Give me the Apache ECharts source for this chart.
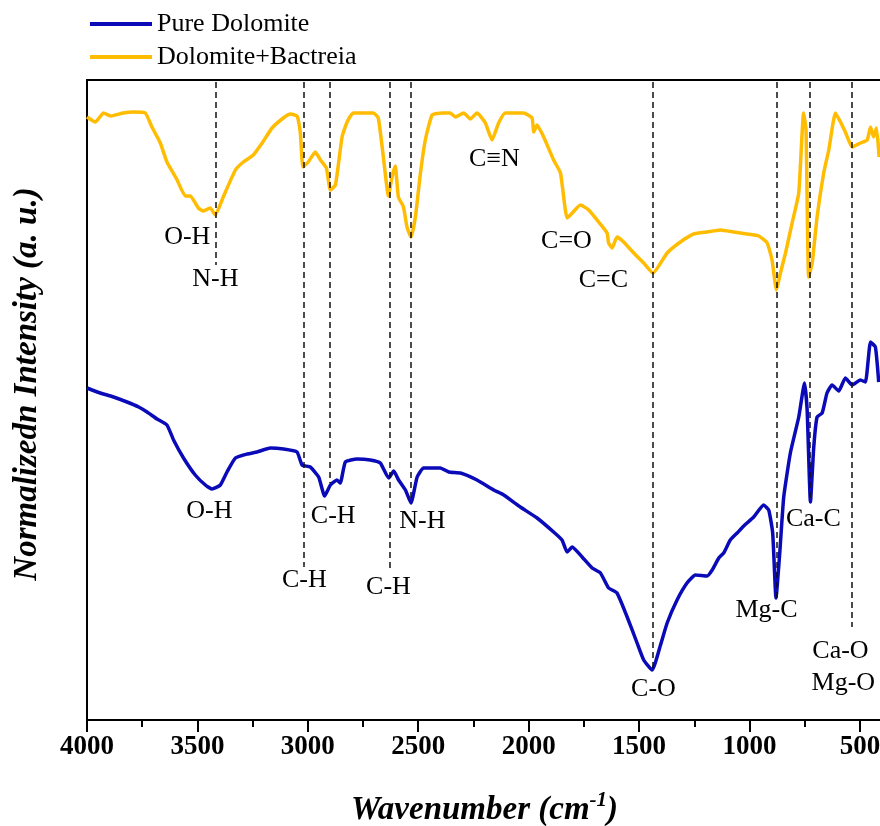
<!DOCTYPE html>
<html>
<head>
<meta charset="utf-8">
<script src="https://cdn.jsdelivr.net/npm/echarts@6/dist/echarts.min.js"></script>
<style>
html,body{margin:0;padding:0;background:#fff;}
#chart{width:880px;height:826px;}
</style>
</head>
<body>
<div id="chart"></div>
<script>
// ---- Data ----
const seriesNames = ['Pure Dolomite', 'Dolomite+Bactreia'];
const seriesColors = ['#0a0ab8', '#ffbc00'];

// Dolomite + Bacteria spectrum (wavenumber, cm-1) and normalized intensity (a.u.)
const orangeWn = [4000,3962,3925,3894,3836,3790,3736,3706,3668,3638,
  3592,3555,3532,3496,3473,3442,3419,3383,3328,3292,
  3247,3207,3162,3111,3079,3049,3034,3022,2998,2966,
  2943,2916,2898,2875,2845,2822,2794,2703,2681,2658,
  2635,2619,2604,2590,2567,2551,2533,2513,2490,2468,
  2437,2392,2355,2332,2294,2264,2234,2196,2166,2136,
  2106,2023,1985,1977,1962,1932,1887,1856,1826,1803,
  1766,1728,1683,1645,1638,1622,1600,1570,1524,1479,
  1437,1373,1313,1253,1192,1132,1072,1011,958,920,
  898,878,860,837,807,777,755,744,732,716,
  694,664,641,611,588,566,535,498,467,452,
  438,425,413];
const orangeVal = [603,598,607,604,607,608,607,593,577,558,
  540,524,524,512,509,512,505,523,550,558,
  565,577,592,602,606,604,587,553,558,568,
  560,552,530,535,583,598,607,607,602,563,
  524,543,554,523,513,493,483,503,547,580,
  605,607,607,603,607,601,607,597,580,597,
  607,607,602,588,595,583,560,547,502,507,
  515,510,498,487,477,472,483,478,467,457,
  447,467,478,486,488,490,488,486,484,477,
  460,430,447,467,497,527,607,590,443,457,
  503,547,570,607,598,588,573,577,580,593,
  583,592,563];

// Pure Dolomite spectrum
const blueWn = [4000,3940,3880,3819,3766,3728,3683,3638,3608,3563,
  3510,3464,3434,3396,3366,3328,3275,3230,3170,3110,
  3049,3026,2989,2951,2924,2898,2868,2853,2830,2777,
  2717,2672,2634,2611,2589,2558,2533,2505,2476,2400,
  2362,2309,2234,2158,2113,2038,1962,1887,1849,1826,
  1803,1758,1713,1675,1638,1600,1554,1509,1479,1441,
  1403,1373,1328,1283,1245,1192,1169,1139,1117,1087,
  1056,1026,981,936,913,895,880,863,845,815,
  777,751,739,724,709,694,671,649,626,596,
  566,535,498,475,452,430,415];
const blueVal = [332,327,323,318,313,308,301,295,280,262,
  245,235,231,235,248,262,266,268,272,271,
  268,255,253,243,224,235,240,237,258,261,
  260,257,242,249,240,230,217,243,252,252,
  248,247,240,230,225,213,202,188,180,168,
  173,163,152,147,132,127,103,77,60,50,
  75,97,120,137,145,144,150,162,167,180,
  187,194,203,215,210,187,122,167,223,267,
  303,337,310,218,273,303,307,327,335,329,
  342,335,340,338,378,373,338];

// Dashed peak marker lines: wavenumber, lower end (a.u.), common upper end
const peakWn  = [3419, 3020, 2903, 2631, 2536, 1440, 878, 729, 539];
const peakLow = [455, 153, 237, 148, 220, 52, 120, 220, 93];
const peakTop = 638;

// Band assignment labels
const bandText = ['O-H','N-H','C\u2261N','C=O','C=C','O-H','C-H','N-H','C-H','C-H','C-O','Mg-C','Ca-C','Ca-O','Mg-O'];
const bandWn   = [3546, 3419, 2155, 1829, 1662, 3446, 2885, 2481, 3016, 2635, 1435, 923, 711, 588, 575];
const bandVal  = [483, 441, 561, 479, 440, 209, 204, 199, 140, 133, 31, 110, 201, 69, 37];

// Axis ticks
const majorTicks = [4000, 3500, 3000, 2500, 2000, 1500, 1000, 500];
const minorTicks = [3750, 3250, 2750, 2250, 1750, 1250, 750];
const xMin = 400, xMax = 4000;
const yMin = 0, yMax = 640;

// ---- Chart ----
const serif = '"Liberation Serif", "Times New Roman", serif';
const zip = (a, b) => a.map((v, i) => [v, b[i]]);

const chart = echarts.init(document.getElementById('chart'), null, {renderer: 'canvas'});

const option = {
  animation: false,
  backgroundColor: '#ffffff',
  grid: {
    left: 87, top: 80, width: 795, height: 640,
    containLabel: false,
    outerBoundsMode: 'none',
    show: true, borderColor: '#000', borderWidth: 2, backgroundColor: 'transparent'
  },
  legend: {
    data: seriesNames,
    orient: 'vertical',
    left: 85, top: 6,
    itemGap: 7,
    itemWidth: 62, itemHeight: 4,
    icon: 'rect',
    textStyle: {fontFamily: serif, fontSize: 26, lineHeight: 26, color: '#000'}
  },
  xAxis: [{
    type: 'value', inverse: true, min: xMin, max: xMax,
    position: 'bottom',
    axisLine: {show: true, lineStyle: {color: '#000', width: 2}},
    axisTick: {show: true, customValues: majorTicks, length: 12, inside: false, lineStyle: {color: '#000', width: 2}},
    axisLabel: {show: true, customValues: majorTicks, margin: 14, formatter: v => String(v),
      fontFamily: serif, fontSize: 27, fontWeight: 'bold', color: '#000'},
    splitLine: {show: false},
    name: '{t|Wavenumber (cm}{s|-1}{t|)}',
    nameLocation: 'middle',
    nameGap: 70,
    nameTextStyle: {
      rich: {
        t: {fontFamily: serif, fontSize: 33, fontWeight: 'bold', fontStyle: 'italic', color: '#000', lineHeight: 40},
        s: {fontFamily: serif, fontSize: 21, fontWeight: 'bold', fontStyle: 'italic', color: '#000', lineHeight: 22, verticalAlign: 'top'}
      }
    }
  }, {
    type: 'value', inverse: true, min: xMin, max: xMax,
    position: 'bottom',
    axisLine: {show: false},
    axisTick: {show: true, customValues: minorTicks, length: 7, inside: false, lineStyle: {color: '#000', width: 2}},
    axisLabel: {show: false},
    splitLine: {show: false}
  }],
  yAxis: {
    type: 'value', min: yMin, max: yMax,
    axisLine: {show: true, lineStyle: {color: '#000', width: 2}},
    axisTick: {show: false},
    axisLabel: {show: false},
    splitLine: {show: false}
  },
  graphic: [{
    type: 'text',
    x: 27, y: 384,
    rotation: Math.PI / 2,
    style: {
      text: 'Normalizedn Intensity (a. u.)',
      font: 'italic bold 33px ' + serif,
      fill: '#000',
      align: 'center', verticalAlign: 'middle',
      textAlign: 'center', textVerticalAlign: 'middle'
    }
  }],
  series: [
    {
      name: seriesNames[0], type: 'line', xAxisIndex: 0,
      data: zip(blueWn, blueVal),
      symbol: 'none', smooth: 0.15,
      lineStyle: {color: seriesColors[0], width: 3.5, join: 'round'},
      itemStyle: {color: seriesColors[0]},
      z: 3
    },
    {
      name: seriesNames[1], type: 'line', xAxisIndex: 0,
      data: zip(orangeWn, orangeVal),
      symbol: 'none', smooth: 0.15,
      lineStyle: {color: seriesColors[1], width: 3.5, join: 'round'},
      itemStyle: {color: seriesColors[1]},
      z: 3,
      markLine: {
        silent: true,
        symbol: ['none', 'none'],
        label: {show: false},
        lineStyle: {color: '#111', width: 1.5, type: [6, 4]},
        data: peakWn.map((w, i) => [{coord: [w, peakTop]}, {coord: [w, peakLow[i]]}])
      }
    },
    {
      name: 'bands', type: 'scatter', xAxisIndex: 0,
      data: bandWn.map((w, i) => ({value: [w, bandVal[i]], name: bandText[i]})),
      symbolSize: 0,
      itemStyle: {color: '#000'},
      label: {
        show: true, position: 'inside',
        formatter: p => p.name,
        fontFamily: serif, fontSize: 26, color: '#000', opacity: 1
      },
      emphasis: {disabled: true},
      silent: true,
      z: 5
    }
  ]
};
chart.setOption(option);
</script>
</body>
</html>
